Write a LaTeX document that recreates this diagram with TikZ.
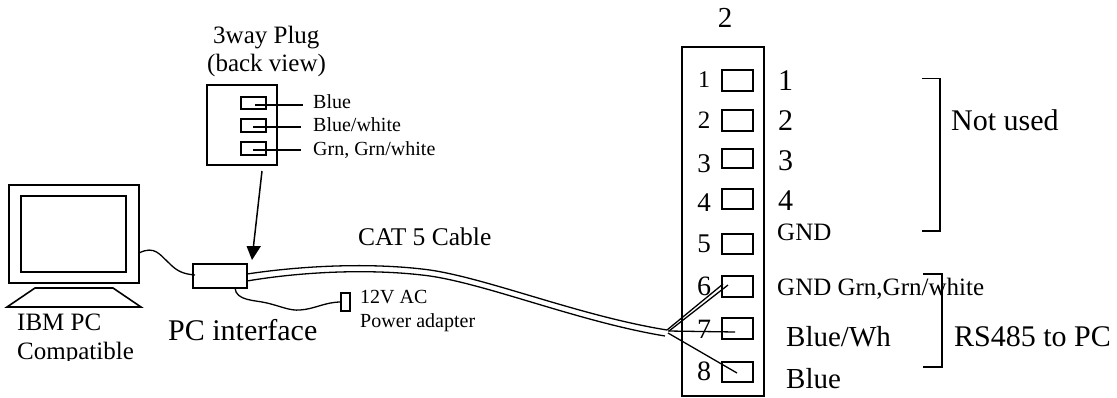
\documentclass[tikz,border=0pt]{standalone}
\usepackage{fontspec}
\setmainfont{Liberation Serif}
\tikzset{
 x=1pt,y=-1pt,
 lbl/.style={inner sep=0pt,anchor=base west},
 fs/.style={font=\fontsize{#1}{#1}\selectfont},
 ln/.style={draw=black,line width=1.6pt},
 boxn/.style={draw=black,line width=1.6pt,inner sep=0pt,outer sep=0pt,minimum width=#1},
 wire/.style={draw=black,line width=1.3pt},
 lead/.style={draw=black,line width=1.4pt},
}
\begin{document}
\begin{tikzpicture}
\useasboundingbox (0,0) rectangle (1117,397);
% PC
\node[boxn=130pt,minimum height=98pt] (mon) at (74,234) {};
\node[boxn=105pt,minimum height=76pt] (scr) at (73.5,234) {};
\draw[ln,line join=miter] (35,288) -- (113,288) -- (141,307) -- (7,307) -- cycle;
\node[lbl,fs=25] (ibm) at (17,330) {IBM PC};
\begin{scope}
\clip (0,335) rectangle (200,360);
\node[lbl,fs=25] (compat) at (17,359) {Compatible};
\end{scope}
% PC interface box
\node[boxn=54pt,minimum height=24pt] (pci) at (220,276) {};
\coordinate (pcout) at (mon.east |- 0,253);
\coordinate (pcin) at (195,275);
\coordinate (pwout) at (235,288);
\node[boxn=9pt,minimum height=18pt] (plug) at (345.5,302) {};
\draw[wire] (pcout) .. controls (155,245) and (160,255) .. (170,264) .. controls (177,271) and (183,274) .. (pcin);
\draw[wire] (pwout) .. controls (236,301) and (255,300) .. (267,303) .. controls (280,306) and (290,311) .. (300,310) .. controls (315,309) and (325,302) .. (plug.west);
\node[lbl,fs=30] (pcl) at (168,340) {PC interface};
\node[lbl,fs=20] (ac) at (360,303) {12V AC};
\node[lbl,fs=20] (pa) at (360,327) {Power adapter};
\node[lbl,fs=25.5] (cat) at (358,245) {CAT 5 Cable};
% 3way plug
\node[lbl,fs=25] (tw) at (213,43) {3way Plug};
\node[lbl,fs=25] (bv) at (207,71) {(back view)};
\node[boxn=70pt,minimum height=80pt] (pb) at (242,125) {};
\node[boxn=25pt,minimum height=12.5pt] (pa1) at (253.5,103) {};
\node[boxn=25pt,minimum height=13pt] (pa2) at (253.5,125.5) {};
\node[boxn=25pt,minimum height=13pt] (pa3) at (253.5,148.5) {};
\coordinate (l1) at (303,105); \coordinate (l2) at (301,127); \coordinate (l3) at (301,150);
\coordinate (s1) at (255,105); \coordinate (s2) at (253,127); \coordinate (s3) at (253,150);
\draw[lead] (s1) -- (l1);
\draw[lead] (s2) -- (l2);
\draw[lead] (s3) -- (l3);
\node[lbl,fs=20] (bl) at (313,108) {Blue};
\node[lbl,fs=20] (bw) at (313,131) {Blue/white};
\node[lbl,fs=20] (gg) at (313,155) {Grn, Grn/white};
% arrow
\coordinate (as) at (262,171);
\coordinate (ae) at (252,260);
\coordinate (am) at (253.5,246);
\draw[line width=1.5pt] (as) -- (am);
\fill (ae) -- (246.5,246) -- (261,246) -- cycle;
% cable
\coordinate (cu) at (667,330);
\coordinate (cl) at (665,336);
\draw[wire] (pci.east |- 0,274) .. controls (300,266) and (370,262) .. (430,270) .. controls (490,279) and (580,316) .. (cu);
\draw[wire] (pci.east |- 0,281) .. controls (300,272) and (370,268) .. (430,276) .. controls (490,285) and (580,322) .. (cl);
% panel
\node[lbl,fs=29,anchor=base] (top2) at (725,27) {2};
\node[boxn=82pt,minimum height=349pt] (pan) at (723,221.5) {};
\foreach \n/\a/\h/\d/\s in {1/80.5/21/87/24,2/120.5/21/128/25,3/158.5/19/172/27,4/199/20/211/27,5/244/20/252/27,6/286.5/21/295/28,7/328.5/21/338/28,8/372/20/380/28}{
  \node[boxn=31pt,minimum height=\h pt] (slot\n) at (737.5,\a) {};
  \node[lbl,fs=\s,anchor=base] (num\n) at (704,\d) {\n};
}
\foreach \n/\y in {1/90,2/130,3/170,4/210}
  \node[lbl,fs=30] (r\n) at (778,\y) {\n};
\node[lbl,fs=25] (gnd) at (777,240) {GND};
\node[lbl,fs=25] (gndg) at (777,295) {GND Grn,Grn/white};
\node[lbl,fs=29] (bwh) at (786,346) {Blue/Wh};
\node[lbl,fs=29] (blu) at (786,388) {Blue};
% wires into slots
\coordinate (w6a) at (723,284); \coordinate (w6b) at (728,285);
\coordinate (w7) at (735,332); \coordinate (w8) at (737,373);
\coordinate (j6b) at (669,331); \coordinate (j) at (668,331); \coordinate (j8) at (668,333);
\draw[wire] (cu) -- (w6a);
\draw[wire] (j6b) -- (w6b);
\draw[wire] (j) -- (w7);
\draw[wire] (j8) -- (w8);
% brackets
\draw[ln,line join=miter] (922,78.5) -- (940,78.5) -- (940,231) -- (922,231);
\node[lbl,fs=30] (nu) at (951,130) {Not used};
\draw[ln,line join=miter] (923,274) -- (942,274) -- (942,367) -- (923,367);
\node[lbl,fs=30] (rs) at (954,346) {RS485 to PC};
\end{tikzpicture}
\end{document}
